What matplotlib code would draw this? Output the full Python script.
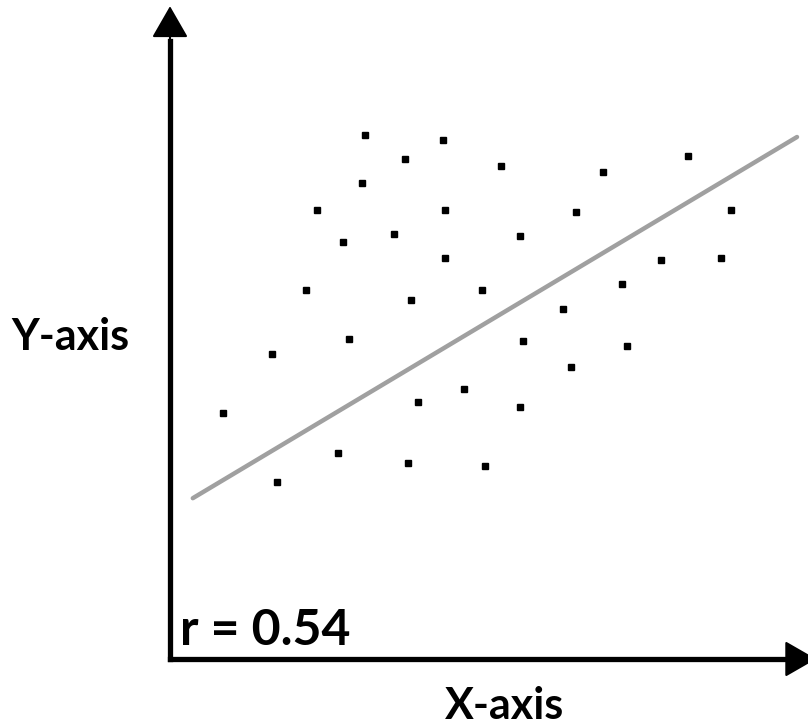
import matplotlib
matplotlib.use("Agg")
import matplotlib.pyplot as plt
from matplotlib.patches import FancyArrowPatch

# data (arbitrary units, origin at the axes corner)
x_vals = [3.25, 4.55, 3.92, 3.20, 2.45, 4.58, 3.73, 2.88, 4.58, 2.27, 4.02,
          5.52, 7.22, 8.63, 6.77, 9.35, 5.83, 8.18, 9.18, 5.20, 7.53, 6.55,
          1.70, 2.98, 0.88, 5.88, 7.62, 6.68, 4.90, 4.13, 5.83, 2.80, 3.97,
          5.25, 1.78]
y_vals = [8.73, 8.65, 8.33, 7.93, 7.48, 7.48, 7.08, 6.95, 6.68, 6.15, 5.98,
          8.22, 8.12, 8.38, 7.45, 7.48, 7.05, 6.65, 6.68, 6.15, 6.25, 5.83,
          5.08, 5.33, 4.10, 5.30, 5.22, 4.87, 4.50, 4.28, 4.20, 3.43, 3.27,
          3.22, 2.95]
fit_x = [0.38, 10.45]
fit_y = [2.68, 8.70]
r_label = "r = 0.54"
x_label = "X-axis"
y_label = "Y-axis"

plt.rcParams['font.family'] = ['Lato', 'DejaVu Sans']

fig = plt.figure(figsize=(8.08, 7.25), dpi=100)
ax = fig.add_axes([0, 0, 1, 1])
ax.set_xlim(-170 / 60, 638 / 60)
ax.set_ylim(-66 / 60, 659 / 60)
ax.axis('off')

# axes with arrows
ax.plot([0, 0], [0, 10.3], color='black', lw=3.8, solid_capstyle='projecting', zorder=3)
ax.plot([0, 10.3], [0, 0], color='black', lw=3.8, solid_capstyle='projecting', zorder=3)
for start, end in [((0, 10.2), (0, 10.88)), ((10.2, 0), (10.77, 0))]:
    arr = FancyArrowPatch(start, end, arrowstyle='-|>,head_length=20,head_width=11.5',
                          mutation_scale=1, lw=1.5, color='black',
                          shrinkA=0, shrinkB=0, zorder=3, clip_on=False)
    ax.add_patch(arr)

# regression line
ax.plot(fit_x, fit_y, color='#a0a0a0', lw=3.2, solid_capstyle='round', zorder=2)

# points
ax.plot(x_vals, y_vals, linestyle='none', marker='s', markersize=5,
        color='black', zorder=4)

# texts
ax.text(0.17, 0.48, r_label, fontsize=36, fontweight='bold', ha='left', va='center')
ax.text((505 - 170) / 60, -(706 - 659) / 60, x_label, fontsize=31, fontweight='bold',
        ha='center', va='center')
ax.text(-100 / 60, (659 - 337) / 60, y_label, fontsize=31, fontweight='bold',
        ha='center', va='center')

fig.savefig('out.png', dpi=100)
